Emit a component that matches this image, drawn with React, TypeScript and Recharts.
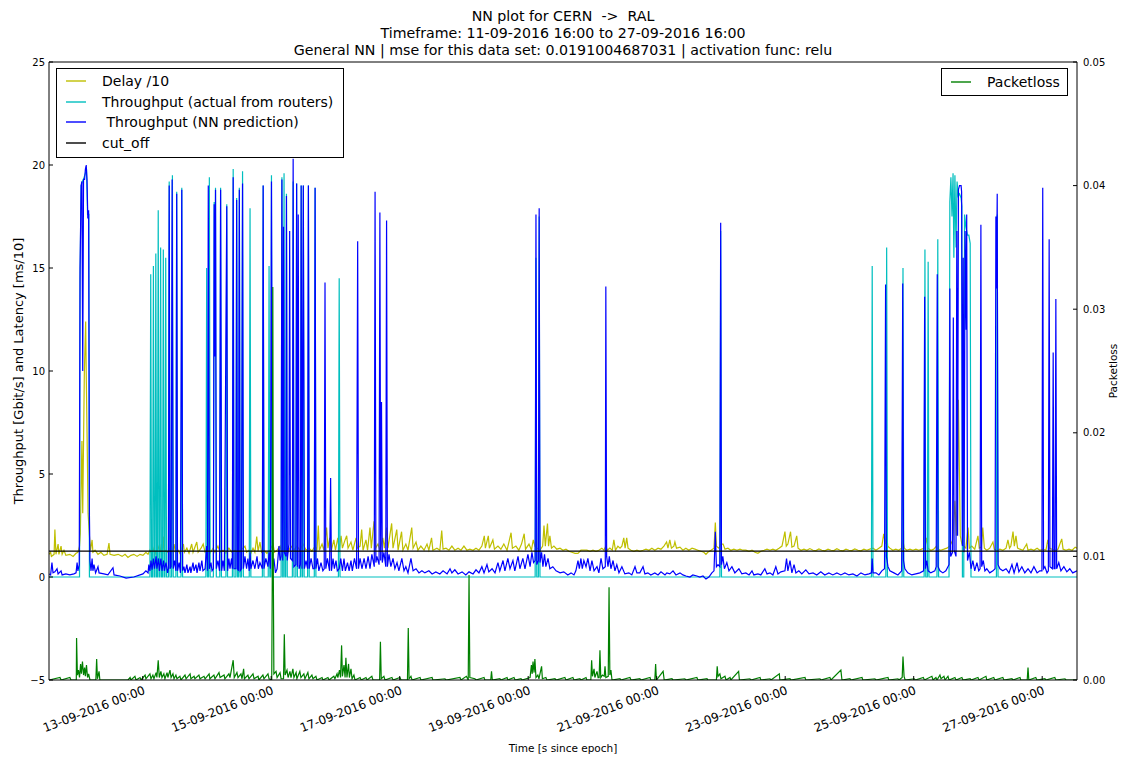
import React from 'react';
import { LineChart, Line, XAxis, YAxis } from 'recharts';

const FONT = '"DejaVu Sans", "Liberation Sans", sans-serif';

// x = hours since 11-09-2016 16:00 (the axis dates are shown in a different zone than the title)
const xTicks = [35, 83, 131, 179, 227, 275, 323, 371];
const xTickLabels = [
  '13-09-2016 00:00',
  '15-09-2016 00:00',
  '17-09-2016 00:00',
  '19-09-2016 00:00',
  '21-09-2016 00:00',
  '23-09-2016 00:00',
  '25-09-2016 00:00',
  '27-09-2016 00:00',
];
const leftTicks = [-5, 0, 5, 10, 15, 20, 25];
const rightTicks = [0, 0.01, 0.02, 0.03, 0.04, 0.05];
const cutOff = 1.26;

const titleLines = [
  'NN plot for CERN  ->  RAL',
  'Timeframe: 11-09-2016 16:00 to 27-09-2016 16:00',
  'General NN | mse for this data set: 0.0191004687031 | activation func: relu',
];
const seriesNames = ['Delay /10', 'Throughput (actual from routers)', ' Throughput (NN prediction)', 'cut_off'];

// [hour, delay/10]
const delay = [[0,1.1],[0.6,1.2],[0.9,1.0],[1.9,1.1],[2.2,2.3],[2.6,1.1],[3.4,1.6],[3.7,1.1],[4.5,1.5],[4.9,1.1],[5.6,1.3],[6.3,1.05],[7.8,1.1],[9.0,1.0],[10.1,1.15],[10.8,1.2],[11.4,1.5],[11.7,2.1],[12.3,6.6],[12.6,3.1],[13.2,9.9],[13.7,12.4],[13.9,10.0],[14.3,6.1],[14.6,3.1],[15.1,2.0],[15.5,1.3],[16.1,1.8],[16.4,1.2],[17.2,1.3],[18.3,1.1],[19.4,1.2],[20.5,1.05],[21.7,1.1],[22.4,1.65],[22.8,1.1],[24.3,1.05],[25.8,1.1],[27.3,1.0],[28.4,1.1],[29.5,0.95],[30.6,1.05],[31.7,1.1],[32.9,1.0],[34.0,1.1],[35.1,1.05],[36.2,1.2],[37.0,1.1],[37.7,1.3],[38.5,1.1],[39.2,1.4],[40.0,1.1],[40.7,1.5],[41.5,1.2],[42.0,1.6],[42.4,1.1],[42.7,1.96],[43.1,1.2],[43.7,1.3],[44.4,1.2],[45.2,1.4],[45.9,1.2],[46.7,1.6],[47.2,1.2],[48.2,1.3],[48.9,1.15],[50.2,1.6],[50.6,1.2],[51.5,1.4],[52.3,1.15],[53.3,1.6],[53.8,1.2],[55.2,1.7],[55.7,1.2],[56.8,1.4],[57.6,1.6],[58.3,1.2],[59.4,1.3],[60.1,1.15],[61.3,1.4],[62.0,1.2],[63.1,1.5],[63.9,1.2],[65.0,1.3],[66.1,1.15],[67.2,1.4],[68.3,1.2],[69.5,1.3],[70.6,1.15],[71.7,1.3],[73.2,1.5],[73.8,1.2],[74.7,1.3],[75.4,1.15],[76.2,1.4],[76.9,1.2],[77.6,1.96],[78.1,1.25],[78.8,1.7],[79.4,1.2],[80.3,1.3],[81.4,1.15],[82.5,1.3],[83.7,1.6],[84.2,1.2],[85.2,1.3],[86.3,1.5],[86.8,1.25],[88.1,1.4],[89.2,1.2],[90.4,1.5],[91.5,1.3],[92.6,1.5],[93.7,1.3],[94.9,1.6],[96.0,1.3],[97.1,1.4],[98.2,1.25],[99.4,1.5],[100.1,1.3],[100.6,2.5],[101.0,1.3],[102.0,1.6],[102.7,1.3],[103.7,2.4],[104.2,1.4],[104.9,1.9],[105.5,1.3],[106.4,1.8],[107.0,1.3],[107.9,1.9],[108.4,1.3],[109.1,2.0],[109.6,1.4],[110.6,1.8],[111.2,2.0],[111.7,1.4],[112.8,1.7],[113.5,1.3],[114.7,1.9],[115.2,1.4],[116.2,1.5],[116.8,2.3],[117.3,1.3],[118.4,1.8],[119.0,1.3],[119.9,2.4],[120.4,1.4],[121.4,2.7],[122.0,1.4],[122.9,1.6],[123.6,1.3],[124.7,1.9],[125.3,1.4],[126.1,2.4],[126.6,1.4],[128.0,2.6],[128.5,1.4],[129.9,2.3],[130.4,1.3],[131.7,2.2],[132.2,1.3],[133.3,1.6],[134.1,1.3],[135.5,2.4],[136.0,1.4],[137.1,1.7],[137.8,1.3],[138.9,1.5],[140.1,1.3],[141.2,1.6],[141.9,1.3],[142.9,1.9],[143.4,1.3],[144.9,1.4],[146.0,1.3],[146.7,2.25],[147.2,1.35],[148.3,1.4],[149.4,1.3],[150.5,1.5],[151.6,1.3],[152.8,1.4],[153.9,1.3],[155.0,1.5],[156.1,1.3],[157.2,1.35],[158.4,1.3],[159.5,1.4],[160.6,1.3],[161.7,1.5],[162.6,2.0],[163.0,1.4],[164.1,2.0],[164.5,1.4],[165.8,1.8],[166.4,1.35],[167.7,1.5],[168.8,1.35],[169.9,1.6],[171.1,1.3],[172.6,2.15],[173.1,1.4],[174.4,1.5],[175.5,1.3],[176.5,1.6],[177.5,2.1],[178.0,1.35],[179.3,1.6],[180.2,1.3],[180.9,1.8],[181.5,1.5],[182.3,1.4],[183.4,1.3],[184.4,1.5],[184.9,2.5],[185.4,1.5],[186.2,2.6],[186.6,1.5],[187.1,2.0],[187.7,1.4],[188.6,1.5],[189.7,1.35],[190.9,1.4],[192.0,1.3],[193.1,1.35],[194.2,1.25],[195.3,1.2],[196.5,1.15],[197.6,1.15],[198.7,1.3],[199.8,1.3],[200.9,1.3],[202.1,1.25],[203.2,1.3],[204.3,1.25],[205.4,1.3],[206.5,1.4],[207.3,1.3],[208.0,1.5],[208.6,1.3],[209.5,1.4],[210.4,1.3],[211.0,1.8],[211.6,1.3],[212.5,1.5],[213.3,1.4],[214.0,1.5],[214.7,1.9],[215.2,1.4],[215.8,1.9],[216.3,1.4],[217.4,1.3],[218.5,1.25],[219.6,1.3],[220.7,1.25],[221.9,1.3],[223.0,1.35],[224.1,1.3],[225.2,1.4],[226.3,1.3],[227.5,1.4],[228.6,1.35],[229.7,1.5],[230.7,1.7],[231.2,1.4],[231.9,1.8],[232.5,1.4],[233.4,1.5],[233.8,1.7],[234.4,1.4],[235.7,1.45],[236.8,1.3],[237.9,1.4],[239.0,1.3],[240.2,1.4],[241.3,1.35],[242.4,1.3],[243.5,1.25],[244.6,1.2],[245.4,1.1],[246.1,1.2],[247.3,1.3],[248.4,1.4],[248.9,2.65],[249.3,1.5],[250.2,1.4],[251.0,1.6],[251.8,1.6],[252.5,1.35],[253.6,1.4],[254.7,1.3],[255.8,1.35],[257.0,1.3],[258.1,1.35],[259.2,1.3],[260.3,1.3],[261.5,1.25],[262.6,1.3],[263.7,1.2],[264.8,1.15],[265.9,1.25],[267.1,1.3],[268.2,1.35],[269.3,1.3],[270.4,1.35],[271.5,1.3],[272.7,1.4],[273.8,1.5],[274.9,2.2],[275.4,1.5],[276.0,1.6],[277.0,2.2],[277.5,1.45],[278.3,1.5],[279.3,2.0],[279.8,1.4],[280.9,1.3],[282.0,1.35],[283.1,1.3],[284.2,1.38],[285.4,1.3],[286.5,1.28],[287.6,1.36],[288.7,1.3],[289.8,1.27],[291.0,1.35],[292.1,1.3],[293.2,1.28],[294.3,1.37],[295.4,1.3],[296.6,1.27],[297.7,1.35],[298.8,1.3],[299.9,1.28],[301.0,1.36],[302.2,1.3],[303.3,1.27],[304.4,1.35],[305.5,1.3],[306.6,1.35],[307.8,1.4],[308.9,1.3],[310.0,1.4],[311.1,1.5],[311.8,2.1],[312.4,1.6],[312.9,2.1],[313.3,1.5],[314.1,1.4],[315.2,1.3],[316.3,1.35],[317.4,1.3],[318.5,1.4],[318.9,1.8],[319.5,1.4],[320.4,1.3],[321.6,1.35],[322.7,1.3],[323.8,1.35],[324.9,1.3],[326.0,1.35],[327.1,1.4],[327.8,1.9],[328.3,1.4],[329.4,1.3],[330.5,1.35],[331.5,1.5],[332.0,1.35],[333.1,1.3],[334.3,1.35],[335.4,1.4],[336.5,1.5],[337.6,1.8],[338.4,3.7],[338.9,2.0],[339.3,4.0],[339.7,8.6],[340.1,5.0],[340.4,2.0],[341.0,1.6],[341.7,1.5],[342.5,1.4],[343.3,2.4],[343.8,1.4],[344.7,1.5],[345.8,1.35],[347.0,2.0],[347.5,1.4],[348.3,1.45],[348.8,2.4],[349.4,1.4],[350.3,1.3],[351.4,1.4],[352.6,1.7],[353.1,1.35],[354.1,1.3],[355.2,1.35],[356.3,1.3],[357.5,1.4],[358.2,1.8],[358.8,1.4],[359.3,1.5],[360.1,2.2],[360.6,1.5],[361.2,2.0],[361.8,1.4],[362.7,1.35],[363.8,1.3],[365.2,1.6],[365.7,1.3],[366.8,1.35],[367.9,1.3],[369.1,1.4],[370.1,1.3],[371.3,1.35],[372.4,1.3],[373.1,1.8],[373.7,1.4],[374.6,1.35],[375.8,1.3],[376.9,1.35],[378.3,1.85],[378.8,1.35],[379.9,1.3],[381.0,1.35],[382.2,1.3],[383.3,1.45],[384,1.4]];

// [hour, Gbit/s] measured on routers
const actual = [[0,0],[11.4,0],[11.6,14.5],[12.0,19.0],[12.5,19.2],[13.1,19.4],[13.6,19.6],[14.0,19.8],[14.4,17.6],[14.9,17.6],[15.1,0],[37.7,0],[38.0,14.7],[38.3,0],[38.7,0],[39.0,15.1],[39.3,0],[39.6,0],[39.9,15.7],[40.2,0],[40.5,0],[40.8,17.8],[41.1,0],[41.4,0],[41.7,16.0],[42.0,0],[42.4,0],[42.7,15.9],[43.0,0],[43.3,0],[43.6,15.5],[43.9,0],[44.6,0],[44.9,19.2],[45.2,0],[45.8,0],[46.1,19.5],[46.4,0],[47.4,0],[47.7,18.7],[48.0,0],[49.3,0],[49.6,18.9],[49.9,0],[58.6,0],[58.9,15.0],[59.2,0],[59.6,0],[59.9,19.4],[60.2,0],[61.4,0],[61.7,18.2],[62.0,11],[62.2,18.9],[62.5,0],[63.8,0],[64.1,18.9],[64.4,0],[66.1,0],[66.4,18.1],[66.7,0],[68.5,0],[68.8,19.8],[69.1,0],[69.8,0],[70.1,18.4],[70.4,0],[70.8,0],[71.1,18.9],[71.4,0],[71.9,0],[72.3,19.7],[72.6,0],[74.8,0],[75.1,17.9],[75.4,0],[79.7,0],[80.0,19.0],[80.3,0],[81.9,0],[82.2,15.1],[82.5,0],[82.8,0],[83.1,19.5],[83.4,0],[86.7,0],[87.0,19.4],[87.3,0],[87.5,0],[87.8,19.6],[88.1,0],[88.4,0],[88.7,18.6],[89.0,0],[90.9,0],[91.2,19.2],[91.5,0],[92.2,0],[92.5,19.1],[92.8,0],[93.9,0],[94.2,19.0],[94.5,0],[94.7,0],[95.0,19.0],[95.3,0],[96.6,0],[96.9,19.0],[97.2,0],[99.1,0],[99.4,18.9],[99.7,0],[108.1,0],[108.4,14.5],[108.7,0],[181.6,0],[181.9,15.5],[182.2,0],[182.8,0],[183.1,17.5],[183.4,0],[250.6,0],[250.9,16.8],[251.2,0],[307.2,0],[307.5,15.1],[307.8,0],[312.6,0],[312.9,16.0],[313.2,0],[318.7,0],[319.0,15.0],[319.3,0],[326.9,0],[327.2,15.9],[327.5,0],[328.1,0],[328.4,15.3],[328.7,0],[331.7,0],[332.0,16.4],[332.3,0],[336.2,0],[336.5,18.2],[336.9,19.4],[337.3,17.5],[337.7,19.6],[338.0,15.5],[338.4,19.5],[338.8,16.0],[339.2,19.2],[339.6,18.5],[340.1,18.6],[340.7,18.4],[341.0,18.0],[341.2,0],[341.7,0],[342.0,17.6],[342.5,17.0],[343.1,16.6],[343.6,16.6],[344.1,16.2],[344.4,0],[353.9,0],[354.2,17.6],[354.5,0],[384,0]];

// [hour, Gbit/s] NN prediction
const predicted = [[0,0.15],[0.6,0.1],[1.1,0.7],[1.5,0.2],[2.2,0.25],[3.0,0.4],[3.4,0.15],[4.5,0.3],[4.9,0.1],[6.3,0.15],[7.8,0.1],[9.3,0.15],[10.1,0.2],[10.5,0.7],[10.8,0.3],[11.3,0.6],[11.6,15],[12.0,19.0],[12.3,19.2],[12.6,10.0],[12.9,19.3],[13.3,19.3],[13.6,19.8],[13.9,20.0],[14.2,19.3],[14.5,17.4],[14.8,17.8],[15.1,3],[15.3,0.8],[15.7,0.3],[16.1,0.9],[16.4,0.3],[16.8,0.6],[17.4,0.2],[18.3,0.5],[18.7,0.2],[20.5,0.15],[22.0,0.1],[23.9,0.45],[24.3,0.1],[26.5,0.05],[28.8,-0.05],[31.7,0],[34.0,0.1],[35.1,0.15],[36.2,0.3],[37.0,0.2],[37.3,0.6],[37.7,0.3],[38.1,0.8],[38.5,0.35],[39.0,0.9],[39.4,0.4],[40.0,1.0],[40.3,0.4],[40.9,0.9],[41.2,0.3],[41.8,0.9],[42.2,0.3],[42.8,0.8],[43.1,0.3],[43.7,0.7],[44.3,0.2],[44.6,0.4],[44.9,19.0],[45.2,0.4],[45.6,0.5],[46.0,19.3],[46.4,0.4],[46.9,0.8],[47.4,0.3],[47.7,18.6],[48.0,0.3],[48.6,0.7],[49.1,0.2],[49.6,18.8],[49.9,0.3],[50.4,0.5],[50.8,0.2],[51.5,0.6],[51.9,0.2],[52.7,0.5],[53.0,0.2],[53.8,0.7],[54.2,0.3],[54.9,0.6],[55.3,0.2],[56.0,0.7],[56.4,0.3],[57.1,0.8],[57.5,0.3],[58.3,0.4],[58.9,1.5],[59.2,0.3],[59.5,19.0],[59.9,0.4],[60.5,0.7],[60.9,0.3],[61.4,0.4],[61.7,18.1],[62.0,10.7],[62.2,18.8],[62.5,0.4],[63.1,0.8],[63.7,0.3],[64.1,18.8],[64.5,0.3],[65.0,0.8],[65.5,0.3],[66.4,18.0],[66.7,0.3],[67.2,0.9],[67.6,0.4],[68.2,0.9],[68.5,0.4],[68.8,19.4],[69.1,0.4],[69.8,0.4],[70.1,18.3],[70.4,0.4],[70.8,0.3],[71.1,18.8],[71.4,0.3],[71.9,0.4],[72.3,19.1],[72.6,0.4],[73.2,1.0],[73.8,0.4],[74.3,0.9],[74.8,0.3],[75.1,1.2],[75.4,0.4],[76.2,0.8],[76.9,0.4],[77.7,1.0],[78.2,0.4],[78.8,0.7],[79.7,0.4],[80.0,19.0],[80.3,0.4],[81.0,0.9],[81.8,0.5],[82.2,1.2],[82.7,0.4],[83.1,19.2],[83.5,0.5],[84.0,0.9],[84.6,0.2],[85.2,0.4],[85.9,1.5],[86.3,0.8],[86.7,1.0],[87.0,19.3],[87.3,0.8],[87.6,17.0],[87.9,1.2],[88.5,1.0],[88.7,18.5],[89.0,0.8],[89.6,1.6],[89.9,16.8],[90.2,0.9],[90.9,0.8],[91.2,20.3],[91.5,0.5],[92.2,0.6],[92.5,19.1],[92.8,0.5],[93.1,17.6],[93.4,0.4],[93.9,0.6],[94.2,19.0],[94.5,0.4],[95.0,19.0],[95.4,0.4],[96.0,0.8],[96.6,0.4],[96.9,19.0],[97.2,0.4],[97.9,0.9],[98.6,0.4],[99.1,0.4],[99.4,18.9],[99.7,0.4],[100.3,0.9],[100.8,0.3],[101.6,0.7],[102.3,0.3],[102.8,0.4],[103.1,14.3],[103.4,0.4],[104.0,0.9],[104.8,0.3],[105.2,4.8],[105.5,0.3],[106.1,0.9],[106.6,0.4],[107.2,0.8],[107.7,0.3],[108.4,0.4],[109.0,0.9],[109.6,0.3],[110.2,0.9],[110.7,0.3],[111.5,0.7],[112.1,0.3],[112.8,0.8],[113.3,0.3],[114.1,0.9],[114.9,0.4],[115.3,16.3],[115.6,0.4],[116.2,0.9],[116.9,0.4],[117.7,0.9],[118.4,0.4],[119.2,1.0],[119.9,0.4],[120.6,1.1],[121.5,0.5],[121.8,18.7],[122.1,0.7],[122.5,1.0],[123.3,0.6],[123.6,17.7],[123.9,0.8],[124.2,8.5],[124.5,0.7],[125.1,1.2],[125.8,0.5],[126.1,17.3],[126.4,0.5],[127.0,1.1],[127.7,0.5],[128.5,0.9],[129.2,0.4],[130.0,0.7],[130.7,0.3],[131.8,0.9],[132.6,0.3],[133.3,0.5],[134.1,0.2],[135.2,0.9],[136.0,0.3],[137.1,0.4],[138.2,0.2],[139.3,0.3],[140.4,0.2],[141.9,0.3],[143.1,0.15],[144.5,0.25],[146.0,0.15],[147.2,0.3],[148.7,0.15],[149.8,0.4],[150.5,0.2],[151.6,0.35],[152.8,0.15],[154.3,0.25],[155.7,0.1],[156.9,0.25],[158.4,0.15],[159.5,0.35],[160.6,0.2],[161.7,0.5],[162.5,0.2],[163.6,0.6],[164.3,0.25],[165.5,0.4],[166.6,0.2],[167.7,0.7],[168.4,0.3],[169.6,0.8],[170.3,0.3],[171.4,0.9],[172.2,0.4],[173.3,0.8],[174.0,0.3],[175.2,1.0],[175.9,0.4],[177.0,0.9],[177.8,0.4],[178.9,1.1],[179.7,0.5],[180.4,1.2],[181.0,0.7],[181.6,0.8],[181.9,17.6],[182.2,0.6],[182.8,0.8],[183.1,17.9],[183.4,0.7],[184.0,1.2],[184.5,0.5],[185.1,1.1],[185.6,0.5],[186.4,0.9],[187.1,0.4],[188.2,0.5],[189.4,0.3],[190.9,0.2],[192.3,0.25],[193.8,0.1],[195.0,0.2],[196.1,0.1],[196.8,0.3],[197.6,0.8],[198.1,0.4],[198.7,0.9],[199.2,0.4],[199.8,0.8],[200.6,0.5],[201.3,0.9],[202.1,0.3],[202.8,0.8],[203.6,0.3],[204.7,0.5],[205.4,0.2],[206.2,0.9],[206.9,0.4],[207.8,0.5],[208.0,14.1],[208.3,1.0],[208.8,0.5],[209.3,1.0],[209.9,0.4],[210.7,0.8],[211.4,0.3],[212.1,0.6],[212.9,0.2],[214.0,0.5],[215.1,0.15],[216.6,0.2],[217.7,0.1],[218.9,0.5],[219.6,0.2],[220.7,0.2],[221.9,0.5],[222.6,0.15],[223.7,0.2],[224.8,0.1],[226.3,0.2],[227.5,0.1],[228.6,0.25],[230.1,0.1],[230.8,0.2],[231.9,0.15],[233.1,0.3],[234.2,0.1],[235.7,0.2],[236.8,0.1],[237.9,0.05],[239.4,0],[240.5,0.1],[242.0,0.05],[243.1,0],[244.3,0.05],[245.4,-0.1],[246.5,0],[247.6,0.2],[248.4,0.3],[248.9,2.2],[249.3,0.5],[249.9,0.6],[250.6,0.5],[250.9,17.2],[251.2,0.6],[251.7,1.0],[252.3,0.4],[253.2,0.7],[254.0,0.3],[255.1,0.5],[256.2,0.2],[257.7,0.4],[258.8,0.15],[260.3,0.2],[261.5,0.1],[262.6,0.3],[263.3,0.1],[264.8,0.15],[265.9,0.1],[267.4,0.4],[268.2,0.15],[269.3,0.2],[270.4,0.1],[271.5,0.5],[272.3,0.15],[273.4,0.25],[274.9,0.3],[275.5,0.9],[276.0,0.3],[276.8,0.8],[277.5,0.2],[278.3,0.6],[279.0,0.2],[280.1,0.3],[281.2,0.15],[282.7,0.35],[283.9,0.15],[285.4,0.2],[286.8,0.1],[288.3,0.25],[289.8,0.1],[291.3,0.2],[292.8,0.1],[294.3,0.2],[295.8,0.1],[297.3,0.2],[298.8,0.1],[300.3,0.15],[301.8,0.05],[303.3,0.2],[304.8,0.1],[306.3,0.15],[307.2,0.2],[307.5,0.9],[307.8,0.2],[308.9,0.2],[310.0,0.1],[311.1,0.3],[312.1,0.4],[312.5,14.2],[312.8,1.0],[313.4,0.5],[314.1,0.3],[315.6,0.2],[317.1,0.1],[318.5,0.3],[318.9,14.25],[319.2,0.8],[319.7,0.4],[320.8,0.2],[322.3,0.1],[323.8,0.15],[325.3,0.2],[326.7,0.3],[327.1,13.6],[327.4,0.4],[327.9,0.8],[328.4,0.3],[329.4,0.2],[330.9,0.3],[331.4,0.5],[331.8,14.7],[332.1,0.5],[332.8,0.3],[333.9,0.2],[335.0,0.3],[335.8,0.5],[336.2,0.6],[336.5,14.0],[336.8,1.0],[337.5,1.2],[337.8,12.6],[338.1,1.3],[338.8,1.0],[339.1,16.8],[339.4,2.0],[339.7,18.8],[340.1,19.0],[340.7,19.0],[340.9,18.7],[341.2,1.5],[341.5,15.5],[341.8,1.2],[342.2,16.8],[342.6,12],[342.8,17.6],[343.1,0.8],[343.8,1.2],[344.4,0.4],[345.1,0.8],[345.8,0.3],[346.6,0.7],[347.3,0.3],[347.8,0.4],[348.1,17.1],[348.4,0.5],[349.0,0.8],[349.6,0.3],[350.3,0.4],[351.4,0.2],[352.6,0.3],[353.4,0.4],[353.7,17.5],[353.9,14],[354.2,18.6],[354.5,0.6],[355.2,0.4],[356.3,0.3],[357.5,0.4],[358.6,0.2],[359.7,0.6],[360.5,0.2],[361.6,0.7],[362.3,0.25],[363.4,0.5],[364.5,0.2],[365.7,0.4],[366.8,0.2],[367.9,0.5],[369.1,0.2],[370.1,0.3],[370.9,0.3],[371.2,18.9],[371.5,0.4],[372.0,0.5],[372.8,0.2],[373.3,0.3],[373.6,16.4],[373.9,0.5],[374.8,0.4],[375.1,10.9],[375.4,0.4],[375.8,0.4],[376.1,13.5],[376.4,0.4],[377.2,0.7],[378.0,0.3],[379.1,0.5],[380.2,0.25],[381.3,0.4],[382.4,0.2],[384,0.3]];

// [hour, packetloss fraction]
const packetloss = [[0,0],[4.1,0.0002],[4.5,0],[7.8,0.0002],[8.2,0],[10.2,0],[10.3,0.0034],[10.6,0.0004],[11.0,0.0008],[11.4,0.0002],[11.8,0.0013],[12.1,0.0005],[12.5,0.0015],[12.9,0.0004],[13.3,0.001],[13.6,0.0003],[14.0,0.0012],[14.4,0.0002],[14.8,0.0005],[15.3,0],[17.5,0],[17.8,0.0017],[18.1,0.0001],[18.7,0.0007],[19.0,0],[29.5,0],[30.3,0.0002],[30.6,0],[32.1,0.0003],[32.5,0],[34.0,0.0002],[34.4,0],[35.9,0.0004],[36.2,0.0001],[37.7,0.0005],[38.1,0.0001],[38.8,0.0004],[39.2,0.0001],[40.0,0.0006],[40.3,0.0002],[40.8,0.0016],[41.2,0.0002],[41.8,0.0007],[42.2,0.0002],[42.9,0.0005],[43.3,0.0001],[44.1,0.0006],[44.4,0.0002],[45.2,0.0008],[45.6,0.0002],[46.3,0.0005],[46.7,0.0001],[47.4,0.0004],[47.8,0.0001],[48.9,0.0003],[49.3,0],[50.8,0.0004],[51.2,0.0001],[52.7,0.0005],[53.0,0.0001],[54.2,0.0003],[54.5,0.0001],[56.0,0.0004],[56.4,0.0001],[57.9,0.0003],[58.3,0.0001],[59.8,0.0005],[60.1,0.0001],[61.6,0.0004],[62.0,0.0001],[63.5,0.0006],[63.9,0.0002],[65.4,0.0004],[65.7,0.0001],[67.2,0.0005],[67.6,0.0002],[68.8,0.0016],[69.2,0.0002],[70.2,0.0006],[70.6,0.0002],[71.7,0.0005],[72.1,0.0001],[72.7,0.0009],[73.0,0.0001],[74.3,0.0004],[74.7,0.0001],[76.2,0.0005],[76.6,0.0001],[78.1,0.0003],[78.4,0],[79.9,0.0004],[80.3,0.0001],[81.8,0.0005],[82.2,0.0001],[83.2,0],[83.4,0.0083],[83.6,0.0318],[83.8,0.0083],[84.0,0.0005],[84.8,0.0007],[85.2,0.0002],[86.3,0.0006],[86.7,0.0001],[87.6,0.0001],[87.9,0.0037],[88.2,0.0004],[88.9,0.0008],[89.3,0.0002],[90.0,0.0007],[90.4,0.0002],[91.1,0.0009],[91.5,0.0002],[92.3,0.0006],[92.6,0.0001],[93.7,0.0007],[94.1,0.0002],[95.2,0.0005],[95.6,0.0001],[96.7,0.0006],[97.1,0.0001],[98.2,0.0004],[98.6,0.0001],[99.7,0.0003],[100.1,0],[102.0,0.0002],[102.3,0],[104.2,0.0002],[104.6,0],[106.4,0.0003],[106.8,0.0001],[107.6,0.0005],[107.9,0.0002],[108.5,0.0008],[108.9,0.0002],[109.3,0.0028],[109.6,0.0003],[110.2,0.0012],[110.6,0.0002],[110.9,0.0018],[111.3,0.0002],[111.9,0.0013],[112.2,0.0002],[112.8,0.0009],[113.2,0.0001],[113.9,0.0004],[114.3,0],[116.2,0.0002],[116.6,0],[118.4,0.0002],[118.8,0],[120.6,0.0003],[121.0,0],[123.5,0],[123.8,0.0031],[124.1,0.0001],[125.1,0.0003],[125.5,0],[128.1,0.0002],[128.5,0],[131.1,0.0002],[131.5,0],[133.9,0],[134.2,0.0042],[134.5,0.0001],[135.2,0.0003],[135.6,0],[138.6,0.0002],[138.9,0],[143.1,0.0002],[143.4,0],[147.9,0.0001],[148.3,0],[153.5,0.0002],[153.9,0],[155.9,0.0003],[156.6,0],[156.9,0.0085],[157.2,0.0002],[159.1,0.0001],[159.5,0],[162.5,0.0002],[162.8,0],[165.0,0],[165.3,0.0007],[165.6,0],[168.4,0.0001],[168.8,0],[171.1,0.0002],[171.4,0],[173.7,0.0002],[174.1,0],[176.3,0.0001],[176.7,0],[179.7,0.0002],[180.2,0.0012],[180.5,0.0005],[180.8,0.0015],[181.2,0.0006],[181.5,0.0017],[181.9,0.0002],[182.6,0.0004],[183.0,0.0001],[184.0,0.0011],[184.3,0.0001],[185.6,0.0002],[186.0,0],[189.0,0.0001],[189.4,0],[192.7,0.0002],[193.1,0],[195.7,0.0002],[196.1,0],[198.3,0.0001],[198.7,0],[200.6,0.0002],[200.9,0],[202.4,0],[202.7,0.0016],[203.0,0.0003],[203.6,0.0009],[203.9,0.0002],[204.7,0.0007],[205.1,0.0002],[205.5,0.0002],[205.8,0.0024],[206.1,0.0002],[206.7,0.0004],[207.4,0.0003],[207.7,0.0011],[208.0,0.0002],[208.9,0.0003],[209.2,0.0075],[209.5,0.0004],[209.9,0.0008],[210.3,0],[213.3,0.0001],[213.6,0],[217.0,0.0002],[217.4,0],[220.7,0.0001],[221.1,0],[224.5,0.0002],[224.8,0],[226.3,0],[226.6,0.0013],[226.9,0],[229.4,0.0007],[229.8,0],[232.7,0.0001],[233.1,0],[237.5,0.0001],[237.9,0],[242.0,0.0002],[242.4,0],[245.8,0.0001],[246.1,0],[249.3,0],[249.6,0.0011],[249.9,0.0003],[250.6,0.0005],[251.0,0.0001],[252.5,0.0003],[252.9,0],[254.4,0.0002],[254.7,0],[257.6,0.0007],[257.9,0],[261.8,0.0001],[262.2,0],[265.6,0.0002],[265.9,0],[269.3,0.0001],[269.7,0],[272.8,0.0005],[273.0,0],[276.8,0.0001],[277.1,0],[282.4,0.0002],[282.7,0],[288.0,0.0001],[288.3,0],[291.7,0.0002],[292.1,0],[295.8,0.0008],[296.2,0],[299.2,0.0001],[299.5,0],[303.7,0.0002],[304.0,0],[308.5,0.0001],[308.9,0],[313.4,0.0002],[313.7,0],[317.1,0.0001],[317.5,0],[318.7,0.0002],[319.0,0.0019],[319.4,0.0003],[319.8,0],[323.2,0.0001],[323.6,0],[326.6,0.0002],[327.0,0],[329.8,0.0003],[330.2,0],[331.3,0.0002],[331.7,0],[332.8,0.0004],[333.2,0.0001],[334.3,0.0003],[334.7,0],[335.8,0.0003],[336.2,0],[338.4,0.0002],[338.8,0],[341.0,0.0002],[341.4,0],[344.1,0.0001],[344.4,0],[347.0,0.0002],[347.4,0],[350.0,0.0003],[350.3,0],[352.9,0.0002],[353.3,0],[356.3,0.0002],[356.7,0],[359.7,0.0001],[360.1,0],[362.7,0.0002],[363.0,0],[365.4,0],[365.7,0.001],[366.0,0],[368.6,0.0002],[369.0,0],[372.0,0.0001],[372.4,0],[375.7,0.0002],[376.1,0],[379.5,0.0001],[379.9,0],[384,0]];

const cutOffLine = [[0, cutOff], [384, cutOff]];

const toRows = (pts: number[][]) => pts.map(([t, v]) => ({ t, v }));

const DateTick = (props: any) => {
  const { x, y, payload } = props;
  const label = xTickLabels[xTicks.indexOf(payload.value)];
  return (
    <text
      x={x}
      y={y}
      dy="0.75em"
      textAnchor="end"
      transform={`rotate(-21 ${x} ${y})`}
      fontSize={12}
      fontFamily={FONT}
      fill="#000"
    >
      {label}
    </text>
  );
};

const tickStyle = { fontSize: 10, fill: '#000', fontFamily: FONT };

const LegendRow = ({ color, label }: { color: string; label: string }) => (
  <div style={{ height: 20.6, display: 'flex', alignItems: 'center' }}>
    <svg width={20} height={4} style={{ display: 'block' }}>
      <line x1={0} y1={2} x2={20} y2={2} stroke={color} strokeWidth={1.4} />
    </svg>
    <span style={{ marginLeft: 16, fontSize: 14, whiteSpace: 'pre', color: '#000' }}>{label}</span>
  </div>
);

export default function App() {
  const lineColors = ['#bfbf00', '#00bfbf', '#0000ff', '#000000'];
  return (
    <div style={{ position: 'absolute', left: 0, top: 0, width: 1122, height: 757, background: '#fff', fontFamily: FONT }}>
      <LineChart width={1122} height={757} margin={{ top: 61, right: 5, bottom: 17, left: 9 }}>
        <XAxis
          xAxisId="bottom"
          dataKey="t"
          type="number"
          domain={[0, 384]}
          ticks={xTicks}
          interval={0}
          allowDataOverflow
          height={60}
          tickSize={-4}
          tickMargin={9}
          stroke="#000"
          axisLine={{ stroke: '#000' }}
          tickLine={{ stroke: '#000' }}
          tick={<DateTick />}
        />
        <XAxis
          xAxisId="top"
          orientation="top"
          dataKey="t"
          type="number"
          domain={[0, 384]}
          ticks={xTicks}
          interval={0}
          allowDataOverflow
          height={1}
          tickSize={-4}
          stroke="#000"
          axisLine={{ stroke: '#000' }}
          tickLine={{ stroke: '#000' }}
          tick={false}
        />
        <YAxis
          yAxisId="left"
          type="number"
          domain={[-5, 25]}
          ticks={leftTicks}
          interval={0}
          allowDataOverflow
          width={40}
          tickSize={-4}
          tickMargin={8}
          stroke="#000"
          axisLine={{ stroke: '#000' }}
          tickLine={{ stroke: '#000' }}
          tick={tickStyle}
          tickFormatter={(v: number) => (v < 0 ? `\u2212${-v}` : `${v}`)}
        />
        <YAxis
          yAxisId="right"
          orientation="right"
          type="number"
          domain={[0, 0.05]}
          ticks={rightTicks}
          interval={0}
          allowDataOverflow
          width={40}
          tickSize={-4}
          tickMargin={10}
          stroke="#000"
          axisLine={{ stroke: '#000' }}
          tickLine={{ stroke: '#000' }}
          tick={tickStyle}
          tickFormatter={(v: number) => v.toFixed(2)}
        />
        <Line xAxisId="bottom" yAxisId="left" data={toRows(delay)} dataKey="v" type="linear" stroke={lineColors[0]} strokeWidth={1.2} dot={false} isAnimationActive={false} />
        <Line xAxisId="bottom" yAxisId="left" data={toRows(actual)} dataKey="v" type="linear" stroke={lineColors[1]} strokeWidth={1.2} dot={false} isAnimationActive={false} />
        <Line xAxisId="bottom" yAxisId="left" data={toRows(predicted)} dataKey="v" type="linear" stroke={lineColors[2]} strokeWidth={1.2} dot={false} isAnimationActive={false} />
        <Line xAxisId="bottom" yAxisId="left" data={toRows(cutOffLine)} dataKey="v" type="linear" stroke={lineColors[3]} strokeWidth={1.2} dot={false} isAnimationActive={false} />
        <Line xAxisId="bottom" yAxisId="right" data={toRows(packetloss)} dataKey="v" type="linear" stroke="#008000" strokeWidth={1.2} dot={false} isAnimationActive={false} />
      </LineChart>

      {titleLines.map((line, i) => (
        <div
          key={i}
          style={{ position: 'absolute', left: 163, width: 800, top: 8 + i * 17, textAlign: 'center', fontSize: 14.2, lineHeight: '17px', whiteSpace: 'pre', color: '#000' }}
        >
          {line}
        </div>
      ))}

      <div style={{ position: 'absolute', left: 56, top: 68, width: 288, height: 90, border: '1px solid #000', background: '#fff', boxSizing: 'border-box', padding: '2px 0 0 9px' }}>
        {seriesNames.map((name, i) => (
          <LegendRow key={name} color={lineColors[i]} label={name} />
        ))}
      </div>

      <div style={{ position: 'absolute', left: 941, top: 68, width: 127, height: 28, border: '1px solid #000', background: '#fff', boxSizing: 'border-box', padding: '3px 0 0 9px' }}>
        <LegendRow color="#008000" label="Packetloss" />
      </div>

      <div style={{ position: 'absolute', left: 18, top: 371, transform: 'translate(-50%, -50%) rotate(-90deg)', fontSize: 13, whiteSpace: 'nowrap', color: '#000' }}>
        Throughput [Gbit/s] and Latency [ms/10]
      </div>
      <div style={{ position: 'absolute', left: 1113, top: 371, transform: 'translate(-50%, -50%) rotate(-90deg)', fontSize: 10.5, whiteSpace: 'nowrap', color: '#000' }}>
        Packetloss
      </div>
      <div style={{ position: 'absolute', left: 563, top: 748, transform: 'translate(-50%, -50%)', fontSize: 10.5, whiteSpace: 'nowrap', color: '#000' }}>
        Time [s since epoch]
      </div>
    </div>
  );
}
